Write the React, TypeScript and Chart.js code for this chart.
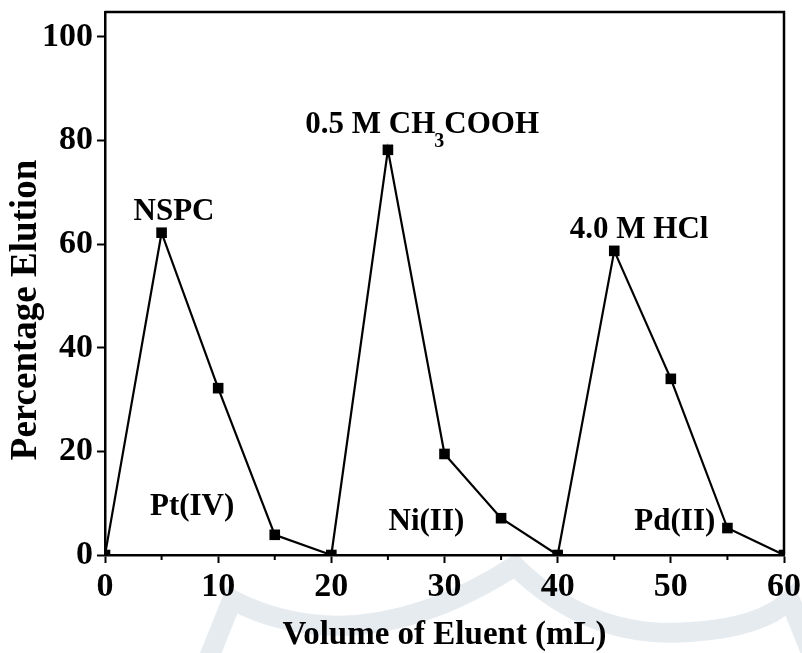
import React, { useEffect, useRef } from "react";
import { Chart, registerables } from "chart.js";

Chart.register(...registerables);

const volumes = [0, 5, 10, 15, 20, 25, 30, 35, 40, 45, 50, 55, 60];
const elution = [0, 62.2, 32.2, 3.9, 0, 78.2, 19.5, 7.1, 0, 58.7, 34.0, 5.2, 0];
const xTicks = [0, 10, 20, 30, 40, 50, 60];
const yTicks = [0, 20, 40, 60, 80, 100];
const xTitle = "Volume of Eluent (mL)";
const yTitle = "Percentage Elution";

// labels anchored in data coordinates (center x, baseline y)
const labelTexts = ["NSPC", "4.0 M HCl", "Pt(IV)", "Ni(II)", "Pd(II)"];
const labelX = [6.1, 47.2, 7.7, 28.4, 50.35];
const labelY = [64.7, 61.2, 7.7, 4.8, 4.8];
const acidParts = ["0.5 M CH", "3", "COOH"];
const acidX = 17.7;
const acidY = 81.5;

const FONT = "'Liberation Serif', 'Times New Roman', serif";

const framePlugin = {
  id: "frame",
  beforeDraw(chart: any) {
    const ctx = chart.ctx;
    ctx.save();
    ctx.fillStyle = "#ffffff";
    ctx.fillRect(0, 0, chart.width, chart.height);
    // faint watermark
    ctx.strokeStyle = "rgba(200,211,222,0.45)";
    ctx.lineWidth = 20;
    ctx.lineCap = "butt";
    ctx.lineJoin = "miter";
    ctx.beginPath();
    ctx.moveTo(208, 660);
    ctx.lineTo(232, 600);
    ctx.quadraticCurveTo(360, 665, 515, 566);
    ctx.quadraticCurveTo(590, 640, 690, 632);
    ctx.quadraticCurveTo(760, 628, 790, 600);
    ctx.lineTo(810, 650);
    ctx.stroke();
    ctx.restore();
  },
  afterDraw(chart: any) {
    const { ctx, chartArea: a, scales } = chart;
    ctx.save();
    ctx.strokeStyle = "#000";
    ctx.lineWidth = 2.5;
    ctx.beginPath();
    ctx.moveTo(a.left, a.top);
    ctx.lineTo(a.right, a.top);
    ctx.lineTo(a.right, a.bottom);
    ctx.stroke();
    // minor ticks on x
    ctx.lineWidth = 2;
    const xs = scales.x;
    for (let v = 5; v < 60; v += 10) {
      const px = xs.getPixelForValue(v);
      ctx.beginPath();
      ctx.moveTo(px, a.bottom);
      ctx.lineTo(px, a.bottom + 5);
      ctx.stroke();
    }
    // axis titles
    ctx.fillStyle = "#000";
    ctx.font = `bold 33px ${FONT}`;
    ctx.textAlign = "center";
    ctx.textBaseline = "alphabetic";
    ctx.fillText(xTitle, (a.left + a.right) / 2, 644);
    ctx.save();
    ctx.translate(36, 310);
    ctx.rotate(-Math.PI / 2);
    ctx.font = `bold 37px ${FONT}`;
    ctx.fillText(yTitle, 0, 0);
    ctx.restore();
    // annotations
    const ys = scales.y;
    ctx.font = `bold 31px ${FONT}`;
    ctx.textAlign = "center";
    for (let i = 0; i < labelTexts.length; i++) {
      ctx.fillText(labelTexts[i], xs.getPixelForValue(labelX[i]), ys.getPixelForValue(labelY[i]));
    }
    ctx.textAlign = "left";
    let px = xs.getPixelForValue(acidX);
    const py = ys.getPixelForValue(acidY);
    ctx.fillText(acidParts[0], px, py);
    px += ctx.measureText(acidParts[0]).width - 1;
    ctx.font = `bold 20px ${FONT}`;
    ctx.fillText(acidParts[1], px, py + 14);
    px += ctx.measureText(acidParts[1]).width;
    ctx.font = `bold 31px ${FONT}`;
    ctx.fillText(acidParts[2], px, py);
    ctx.restore();
  },
};

export default function App() {
  const ref = useRef<HTMLCanvasElement>(null);
  useEffect(() => {
    if (!ref.current) return;
    const chart = new Chart(ref.current, {
      type: "line",
      data: {
        datasets: [
          {
            data: volumes.map((v, i) => ({ x: v, y: elution[i] })),
            borderColor: "#000",
            backgroundColor: "#000",
            borderWidth: 2.2,
            pointStyle: "rect",
            pointRadius: 7.5,
            pointBorderWidth: 0,
            tension: 0,
          },
        ],
      },
      options: {
        animation: false,
        responsive: false,
        layout: { padding: { top: 12, right: 18, left: 0, bottom: 0 } },
        plugins: { legend: { display: false }, tooltip: { enabled: false } },
        scales: {
          x: {
            type: "linear",
            min: 0,
            max: 60,
            afterBuildTicks: (s: any) => {
              s.ticks = xTicks.map((v) => ({ value: v }));
            },
            afterFit: (s: any) => {
              s.height = 98;
              s.paddingLeft = 0;
              s.paddingRight = 0;
            },
            ticks: {
              color: "#000",
              font: { family: FONT, weight: "bold", size: 34 },
              padding: 4,
              maxRotation: 0,
            },
            grid: { drawOnChartArea: false, tickLength: 8, tickWidth: 2, tickColor: "#000" },
            border: { color: "#000", width: 2.5 },
          },
          y: {
            min: 0,
            max: 104.8,
            afterBuildTicks: (s: any) => {
              s.ticks = yTicks.map((v) => ({ value: v }));
            },
            afterFit: (s: any) => {
              s.width = 105;
              s.paddingTop = 0;
              s.paddingBottom = 0;
            },
            ticks: {
              color: "#000",
              font: { family: FONT, weight: "bold", size: 34 },
              padding: 4,
            },
            grid: { drawOnChartArea: false, tickLength: 8, tickWidth: 2, tickColor: "#000" },
            border: { color: "#000", width: 2.5 },
          },
        },
      },
      plugins: [framePlugin],
    });
    return () => chart.destroy();
  }, []);
  return (
    <div style={{ position: "fixed", left: 0, top: 0, width: 802, height: 653, background: "#fff" }}>
      <canvas ref={ref} width={802} height={653} style={{ width: 802, height: 653, display: "block" }} />
    </div>
  );
}
